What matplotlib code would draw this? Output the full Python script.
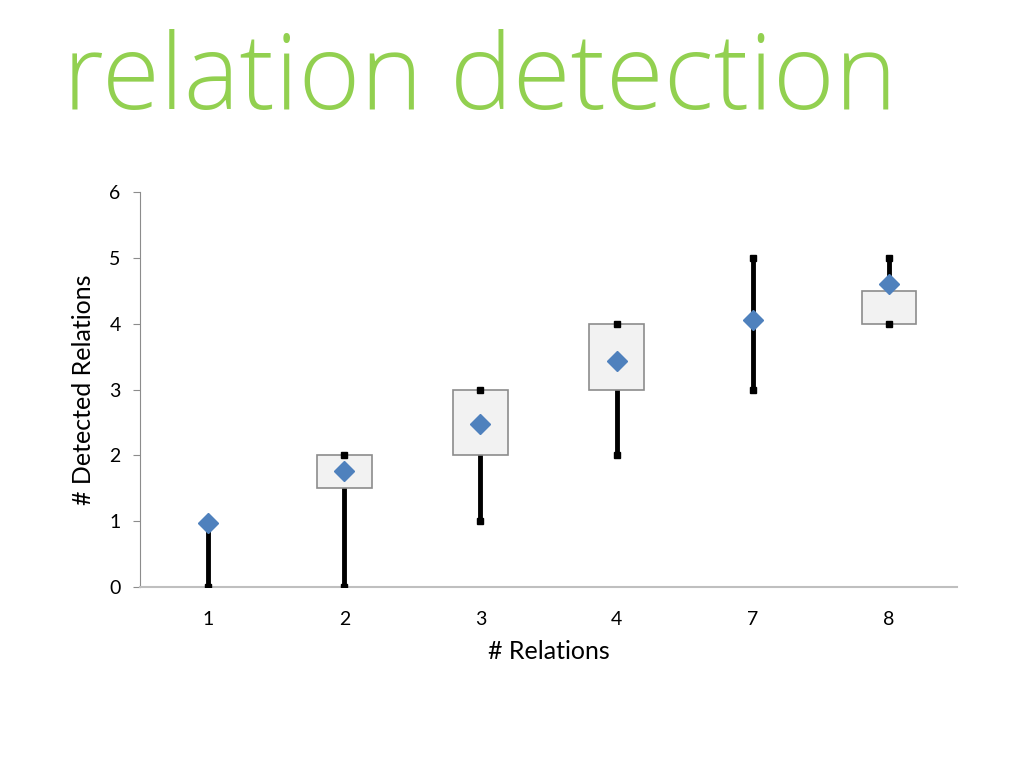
import matplotlib.pyplot as plt

# data
categories = ["1", "2", "3", "4", "7", "8"]
low = [0, 0, 1, 2, 3, 4]
high = [1, 2, 3, 4, 5, 5]
box_low = [1, 1.5, 2, 3, 4, 4]
box_high = [1, 2, 3, 4, 4, 4.5]
mean = [0.98, 1.76, 2.48, 3.43, 4.06, 4.6]

plt.rcParams['font.family'] = ['Lato', 'DejaVu Sans']

fig = plt.figure(figsize=(10.24, 7.68), dpi=100)
fig.text(0.062, 0.858, "relation detection", fontsize=76, color="#92D050",
         family=['Open Sans', 'DejaVu Sans'], fontweight='light')

ax = fig.add_axes([0.1367, 0.2357, 0.798, 0.514])
x = list(range(len(categories)))

# whiskers first, boxes drawn over them
ax.vlines(x, low, high, color="black", linewidth=3.5, zorder=2)
heights = [h - l for h, l in zip(box_high, box_low)]
edge_w = [1.2 if h > 0 else 0 for h in heights]
ax.bar(x, heights, bottom=box_low, width=0.4, color="#F2F2F2",
       edgecolor="#8C8C8C", linewidth=edge_w, zorder=3)
ax.plot(x, low, linestyle="none", marker="s", markersize=5, color="black", zorder=4)
ax.plot(x, high, linestyle="none", marker="s", markersize=5, color="black", zorder=4)
ax.plot(x, mean, linestyle="none", marker="D", markersize=10, color="#4F81BD", zorder=5)

ax.set_xlim(-0.5, len(categories) - 0.5)
ax.set_ylim(0, 6)
ax.set_xticks(x)
ax.set_xticklabels(categories)
ax.set_yticks(range(7))
ax.tick_params(axis='x', length=0, pad=17, labelsize=14)
ax.tick_params(axis='y', length=5, color="#8C8C8C", pad=9, labelsize=14)

for side in ["top", "right"]:
    ax.spines[side].set_visible(False)
ax.spines["left"].set_color("#8C8C8C")
ax.spines["bottom"].set_color("#BFBFBF")
ax.spines["bottom"].set_linewidth(1.5)

ax.set_xlabel("# Relations", fontsize=18, labelpad=9)
ax.set_ylabel("# Detected Relations", fontsize=18, labelpad=10)

fig.savefig("out.png", dpi=100)
